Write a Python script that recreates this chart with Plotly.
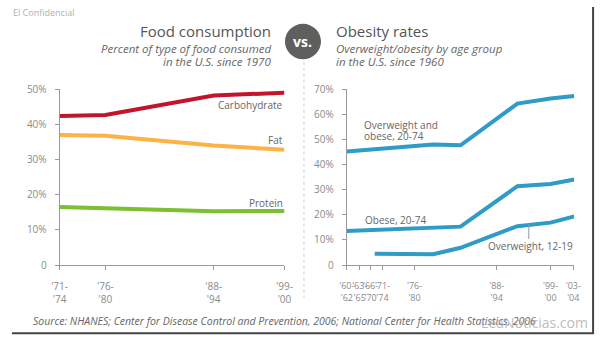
import plotly.graph_objects as go

W, H = 604, 345

# ---- Left chart data: food consumption (% of food consumed) ----
food_x = [1972.5, 1978, 1991, 1999.5]
food_ticks = ["'71-<br>'74", "'76-<br>'80", "'88-<br>'94", "'99-<br>'00"]
carbohydrate = [42.4, 42.7, 48.2, 49.0]
fat = [37.0, 36.8, 34.0, 32.8]
protein = [16.5, 16.1, 15.3, 15.4]

# ---- Right chart data: obesity rates (%) ----
ob_tickvals = [1960, 1962.5, 1964.6, 1966.9, 1973.1, 1989.0, 1999.4, 2003.8]
ob_ticktext = ["'60-<br>'62", "'63-<br>'65", "'66-<br>'70", "'71-<br>'74",
               "'76-<br>'80", "'88-<br>'94", "'99-<br>'00", "'03-<br>'04"]
ow_ob_x = [1960, 1976.7, 1982, 1993, 1999.4, 2004]
ow_ob = [45.2, 48.0, 47.7, 64.3, 66.3, 67.3]
obese_x = [1960, 1982, 1993, 1999.4, 2004]
obese = [13.6, 15.3, 31.4, 32.3, 34.1]
teen_x = [1965.4, 1976.7, 1982, 1993, 1999.4, 2004]
teen = [4.5, 4.3, 6.9, 15.5, 16.9, 19.4]

RED = "#c3142d"
ORANGE = "#fdb244"
GREEN = "#7cbf30"
BLUE = "#2e9bc8"
TXT = "#666666"
TICK = "#8a8a8a"
AX = "#9a9a9a"
FONT = "Open Sans"


def px(x):
    return x / W


def py(y):
    return 1 - y / H


fig = go.Figure()
lw = 4
fig.add_trace(go.Scatter(x=food_x, y=carbohydrate, mode="lines", line=dict(color=RED, width=lw), xaxis="x", yaxis="y"))
fig.add_trace(go.Scatter(x=food_x, y=fat, mode="lines", line=dict(color=ORANGE, width=lw), xaxis="x", yaxis="y"))
fig.add_trace(go.Scatter(x=food_x, y=protein, mode="lines", line=dict(color=GREEN, width=lw), xaxis="x", yaxis="y"))
fig.add_trace(go.Scatter(x=ow_ob_x, y=ow_ob, mode="lines", line=dict(color=BLUE, width=lw), xaxis="x2", yaxis="y2"))
fig.add_trace(go.Scatter(x=obese_x, y=obese, mode="lines", line=dict(color=BLUE, width=lw), xaxis="x2", yaxis="y2"))
fig.add_trace(go.Scatter(x=teen_x, y=teen, mode="lines", line=dict(color=BLUE, width=lw), xaxis="x2", yaxis="y2"))

ydom = [py(269), py(85.7)]
axis_common = dict(showgrid=False, zeroline=False, showline=True, linecolor=AX, linewidth=1,
                   ticks="outside", ticklen=4, tickcolor=AX, tickangle=0, fixedrange=True)
xfont = dict(family=FONT, size=10, color=TICK)
yfont = dict(family=FONT, size=10, color=TICK)

fig.update_layout(
    width=W, height=H, margin=dict(l=0, r=0, t=0, b=0),
    paper_bgcolor="white", plot_bgcolor="white", showlegend=False,
    xaxis=dict(domain=[px(53), px(284)], range=[food_x[0], food_x[-1]], tickmode="array",
               tickvals=food_x, ticktext=food_ticks, anchor="y", tickfont=xfont,
               ticklabelstandoff=8, **axis_common),
    yaxis=dict(domain=ydom, range=[0, 50], tickmode="array", tickvals=[0, 10, 20, 30, 40, 50],
               ticktext=["0", "10%", "20%", "30%", "40%", "50%"], anchor="x", tickfont=yfont,
               ticklabelstandoff=6, **axis_common),
    xaxis2=dict(domain=[px(348), px(581.7)], range=[1960, 2004], tickmode="array",
                tickvals=ob_tickvals, ticktext=ob_ticktext, anchor="y2",
                tickfont=dict(family=FONT, size=9, color=TICK), ticklabelstandoff=8, **axis_common),
    yaxis2=dict(domain=ydom, range=[0, 70], tickmode="array", tickvals=[0, 10, 20, 30, 40, 50, 60, 70],
                ticktext=["0", "10%", "20%", "30%", "40%", "50%", "60%", "70%"], anchor="x2",
                tickfont=yfont, ticklabelstandoff=6, **axis_common),
)

ann = []


def text(x, y, s, size, color=TXT, xa="left", italic=False, family=FONT, xr=None, yr=None, bold=False):
    ann.append(dict(x=x, y=y, xref=xr or "paper", yref=yr or "paper", text=s, showarrow=False,
                    xanchor=xa, yanchor="middle", borderpad=0,
                    font=dict(family=family, size=size, color=color,
                              style="italic" if italic else "normal",
                              weight="bold" if bold else "normal")))


# titles
text(px(271), py(25), "Food consumption", 15, color="#555555", xa="right")
text(px(271), py(43), "Percent of type of food consumed", 11.5, xa="right", italic=True)
text(px(271), py(57), "in the U.S. since 1970", 11.5, xa="right", italic=True)
text(px(336), py(25), "Obesity rates", 15, color="#555555")
text(px(336), py(43), "Overweight/obesity by age group", 11.5, italic=True)
text(px(336), py(57), "in the U.S. since 1960", 11.5, italic=True)
text(px(303), py(36), "vs.", 14, color="white", xa="center", bold=True)

# series labels
text(1999.5, 45.6, "Carbohydrate", 10, xa="right", xr="x", yr="y")
text(1999.5, 35.6, "Fat", 10, xa="right", xr="x", yr="y")
text(1999.5, 17.7, "Protein", 10, xa="right", xr="x", yr="y")
text(px(365), py(122.5), "Overweight and", 10)
text(px(365), py(134), "obese, 20-74", 10)
text(1963.3, 18.1, "Obese, 20-74", 10, xr="x2", yr="y2")
text(2004, 7.5, "Overweight, 12-19", 10, xa="right", xr="x2", yr="y2")

# misc text
text(px(4), py(6), "El Confidencial", 9, color="#b0b0b0")
text(px(25), py(327), "Source: NHANES; Center for Disease Control and Prevention, 2006; National Center for Health Statistics, 2006",
     10.5, italic=True)
text(px(597), py(329), "LeaNoticias.com", 14, color="rgba(170,170,170,0.8)", xa="right")

fig.update_layout(annotations=ann)

shapes = [
    dict(type="circle", xref="paper", yref="paper", x0=px(284.5), x1=px(321.5), y0=py(54.5), y1=py(17.5),
         fillcolor="#5f5f5f", line=dict(width=0), layer="below"),
    dict(type="line", xref="paper", yref="paper", x0=px(304), x1=px(304), y0=py(57), y1=py(303),
         line=dict(color="#cccccc", width=1, dash="dot")),
    dict(type="line", xref="x2", yref="y2", x0=1995.2, x1=1995.2, y0=16.2, y1=10.4,
         line=dict(color="#999999", width=1)),
    dict(type="line", xref="paper", yref="paper", x0=px(601), x1=px(601), y0=py(0), y1=py(340),
         line=dict(color="#444444", width=2)),
    dict(type="line", xref="paper", yref="paper", x0=px(4), x1=px(602), y0=py(340), y1=py(340),
         line=dict(color="#444444", width=2)),
]
fig.update_layout(shapes=shapes)

fig.write_html("out.html")
